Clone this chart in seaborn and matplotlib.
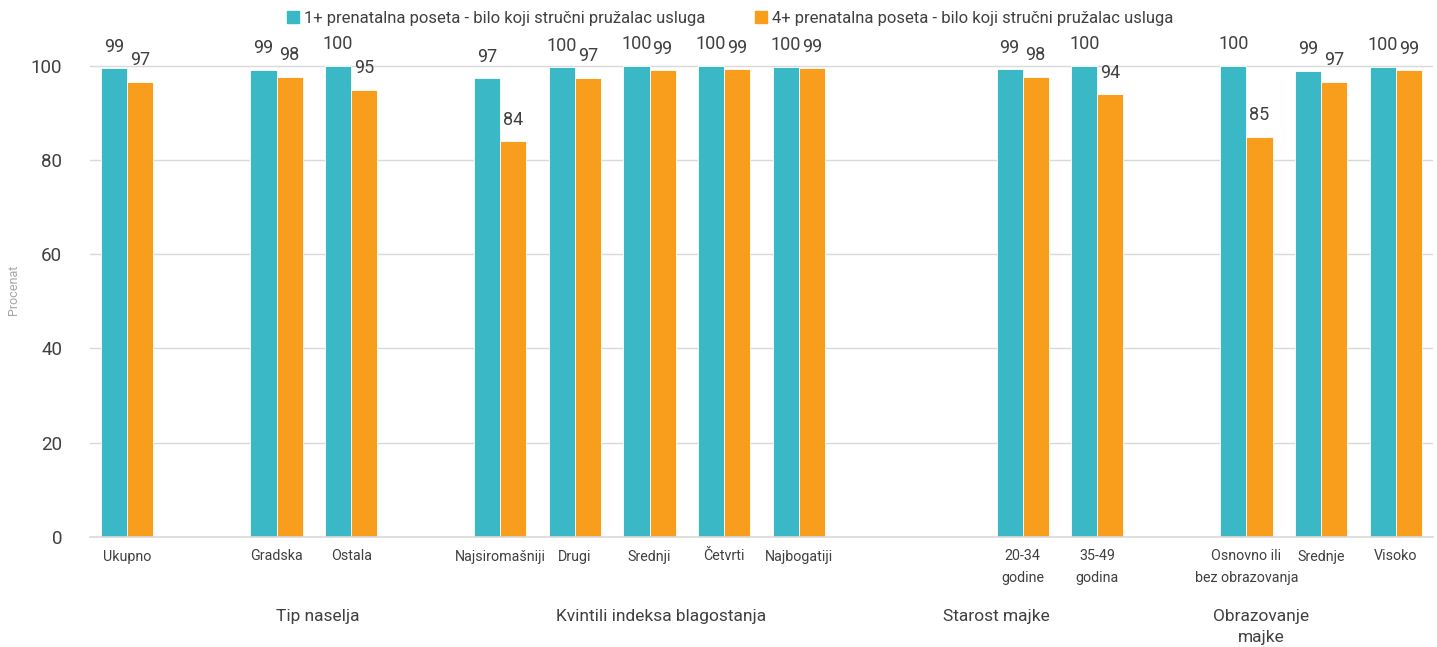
import matplotlib
matplotlib.use("Agg")
import matplotlib.pyplot as plt
import matplotlib.patches as mpatches
import matplotlib.transforms as mtransforms
import pandas as pd
import seaborn as sns

# slots on the x axis (gap slots are empty)
slots = ["Ukupno", "gap1", "Gradska", "Ostala", "gap2", "Najsiromašniji", "Drugi",
         "Srednji", "Četvrti", "Najbogatiji", "gap3", "gap4", "20-34\ngodine",
         "35-49\ngodina", "gap5", "Osnovno ili\nbez obrazovanja", "Srednje", "Visoko"]
categories = ["Ukupno", "Gradska", "Ostala", "Najsiromašniji", "Drugi", "Srednji",
              "Četvrti", "Najbogatiji", "20-34\ngodine", "35-49\ngodina",
              "Osnovno ili\nbez obrazovanja", "Srednje", "Visoko"]
visit1 = [99.4, 99.1, 100.0, 97.3, 99.6, 100.0, 100.0, 99.8, 99.2, 100.0, 100.0, 98.9, 99.8]
visit4 = [96.6, 97.6, 94.9, 83.9, 97.4, 99.0, 99.2, 99.4, 97.6, 93.9, 84.9, 96.6, 99.0]
series = ["1+ prenatalna poseta - bilo koji stručni pružalac usluga",
          "4+ prenatalna poseta - bilo koji stručni pružalac usluga"]
groups = ["Tip naselja", "Kvintili indeksa blagostanja", "Starost majke", "Obrazovanje\nmajke"]
group_pos = [2.55, 7.15, 11.65, 15.2]

colors = {series[0]: "#3BB8C6", series[1]: "#F99D1C"}
text_color = "#404040"

df = pd.DataFrame({
    "kat": categories * 2,
    "serija": [series[0]] * len(categories) + [series[1]] * len(categories),
    "vrednost": visit1 + visit4,
})

sns.set_style("white")
plt.rcParams["font.family"] = ["Roboto", "DejaVu Sans"]

fig = plt.figure(figsize=(14.37, 6.47), dpi=100)
ax = fig.add_axes([90 / 1437, 110 / 647, 1343 / 1437, 495 / 647])

sns.barplot(data=df, x="kat", y="vrednost", hue="serija", order=slots,
            hue_order=series, palette=colors, saturation=1, width=0.7, gap=0,
            edgecolor="white", linewidth=0.6, legend=False, ax=ax)

for cont in ax.containers:
    ax.bar_label(cont, fmt="%.0f", padding=9, fontsize=13, color=text_color)

ax.set_ylim(0, 105)
ax.set_yticks([0, 20, 40, 60, 80, 100])
ax.yaxis.grid(True, color="#D9D9D9", linewidth=1)
ax.set_axisbelow(True)
for s in ["top", "right", "left"]:
    ax.spines[s].set_visible(False)
ax.spines["bottom"].set_color("#D9D9D9")
ax.spines["bottom"].set_linewidth(1.2)

ax.set_xticks(range(len(slots)))
ax.set_xticklabels(["" if s.startswith("gap") else s for s in slots],
                   fontsize=10.3, color=text_color, linespacing=1.65)
ax.tick_params(axis="x", length=0, pad=9)
ax.tick_params(axis="y", length=0, pad=20, labelsize=13.5, labelcolor=text_color)
ax.set_xlabel("")
ax.set_ylabel("Procenat", fontsize=9, color="#A6A6A6")
ax.yaxis.set_label_coords(-0.052, 0.5)

trans = mtransforms.blended_transform_factory(ax.transData, ax.transAxes)
for name, xpos in zip(groups, group_pos):
    ax.text(xpos, -0.145, name, transform=trans, ha="center", va="top",
            fontsize=12.5, color=text_color, linespacing=1.5)

handles = [mpatches.Patch(color=colors[s], label=s) for s in series]
fig.legend(handles=handles, loc="center", bbox_to_anchor=(0.508, 0.972), ncol=2,
           frameon=False, fontsize=12, labelcolor=text_color, handlelength=0.7,
           handleheight=0.7, handletextpad=0.3, columnspacing=3.0)

fig.savefig("out.png", dpi=100)
